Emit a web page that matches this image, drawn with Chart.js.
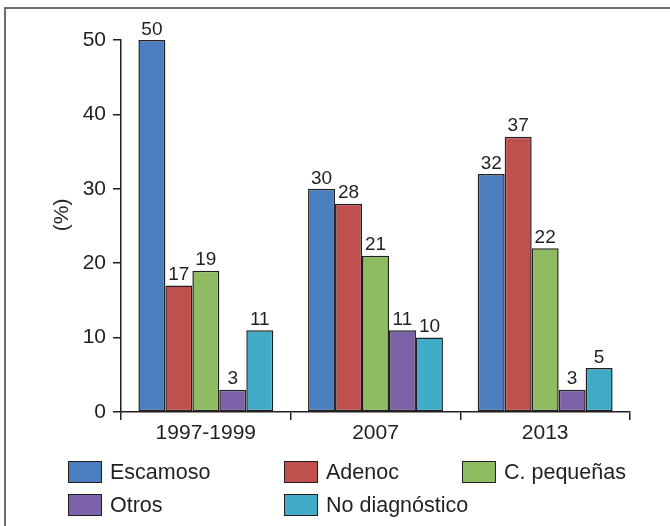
<!DOCTYPE html>
<html>
<head>
<meta charset="utf-8">
<script src="https://cdn.jsdelivr.net/npm/chart.js@4.4.1/dist/chart.umd.min.js"></script>
<style>
  html, body { margin: 0; padding: 0; background: #fff; }
  #wrap { position: relative; width: 670px; height: 526px; overflow: hidden; }
  #frame { position: absolute; left: 4px; top: 7px; width: 700px; height: 600px;
           border-top: 2px solid #6d6d6d; border-left: 2px solid #6d6d6d; box-sizing: border-box; }
  canvas { position: absolute; left: 0; top: 0; }
  .leg { position: absolute; font-family: "Liberation Sans", Arial, sans-serif; font-size: 21.5px; color: #231f20;
         display: flex; align-items: center; white-space: nowrap; }
  .leg span.box { display: inline-block; width: 34px; height: 22px; border: 1.5px solid #231f20; box-sizing: border-box; margin-right: 8px; }
</style>
</head>
<body>
<div id="wrap">
  <div id="frame"></div>
  <canvas id="c" width="670" height="526"></canvas>
  <div id="legend"></div>
</div>
<script>
const categories = ["1997-1999", "2007", "2013"];
const seriesNames = ["Escamoso", "Adenoc", "C. pequeñas", "Otros", "No diagnóstico"];
const escamoso = [50, 30, 32];
const adenoc = [17, 28, 37];
const cPequenas = [19, 21, 22];
const otros = [3, 11, 3];
const noDiagnostico = [11, 10, 5.9];
// printed value labels (the last bar is labelled "5" in the original)
const escamosoLabels = ["50", "30", "32"];
const adenocLabels = ["17", "28", "37"];
const cPequenasLabels = ["19", "21", "22"];
const otrosLabels = ["3", "11", "3"];
const noDiagnosticoLabels = ["11", "10", "5"];
const yTicks = [0, 10, 20, 30, 40, 50];
const yTitle = "(%)";

const colors = ["#4a7ebf", "#c0504d", "#8fbb63", "#7b62a9", "#40acc7"];
const seriesValues = [escamoso, adenoc, cPequenas, otros, noDiagnostico];
const seriesLabels = [escamosoLabels, adenocLabels, cPequenasLabels, otrosLabels, noDiagnosticoLabels];

const FONT = '"Liberation Sans", Arial, sans-serif';
const INK = '#231f20';

const valueLabelPlugin = {
  id: 'valueLabels',
  afterDatasetsDraw(chart) {
    const ctx = chart.ctx;
    ctx.save();
    ctx.font = '19px ' + FONT;
    ctx.fillStyle = INK;
    ctx.textAlign = 'center';
    ctx.textBaseline = 'bottom';
    chart.data.datasets.forEach((ds, di) => {
      const meta = chart.getDatasetMeta(di);
      meta.data.forEach((bar, i) => {
        ctx.fillText(ds.printed[i], bar.x, bar.y - 1);
      });
    });
    // y-axis title
    const ys = chart.scales.y;
    ctx.translate(62, ys.getPixelForValue(26.5));
    ctx.rotate(-Math.PI / 2);
    ctx.font = '21px ' + FONT;
    ctx.textBaseline = 'middle';
    ctx.fillText(yTitle, 0, 0);
    ctx.restore();
  }
};

const chart = new Chart(document.getElementById('c'), {
  type: 'bar',
  data: {
    labels: categories,
    datasets: seriesNames.map((n, i) => ({
      label: n,
      data: seriesValues[i],
      printed: seriesLabels[i],
      backgroundColor: colors[i],
      borderColor: INK,
      borderWidth: 1.5,
      borderSkipped: false,
      categoryPercentage: 0.795,
      barPercentage: 1.0
    }))
  },
  options: {
    responsive: false,
    animation: false,
    devicePixelRatio: 1,
    layout: { padding: { left: 48, right: 40, top: 40, bottom: 0 } },
    plugins: { legend: { display: false }, tooltip: { enabled: false } },
    scales: {
      x: {
        grid: { drawOnChartArea: false, drawTicks: true, tickLength: 8, color: INK, lineWidth: 1.5, offset: true },
        border: { display: true, color: INK, width: 1.5 },
        ticks: { color: INK, font: { family: FONT, size: 21 }, padding: 1, maxRotation: 0 },
        afterFit(s) { s.height = 526 - 412; }
      },
      y: {
        min: 0, max: 50,
        afterBuildTicks(s) { s.ticks = yTicks.map(v => ({ value: v })); },
        grid: { drawOnChartArea: false, drawTicks: true, tickLength: 8, color: INK, lineWidth: 1.5 },
        border: { display: true, color: INK, width: 1.5 },
        ticks: { color: INK, font: { family: FONT, size: 21 }, padding: 7 },
        afterFit(s) { s.width = 121 - 48; }
      }
    }
  },
  plugins: [valueLabelPlugin]
});

// HTML legend built from the chart's datasets
const legPos = [[68, 460], [284, 460], [462, 460], [68, 493], [284, 493]];
const legend = document.getElementById('legend');
chart.data.datasets.forEach((ds, i) => {
  const d = document.createElement('div');
  d.className = 'leg';
  d.style.left = legPos[i][0] + 'px';
  d.style.top = legPos[i][1] + 'px';
  d.style.height = '24px';
  const b = document.createElement('span');
  b.className = 'box';
  b.style.background = ds.backgroundColor;
  d.appendChild(b);
  d.appendChild(document.createTextNode(ds.label));
  legend.appendChild(d);
});
</script>
</body>
</html>
